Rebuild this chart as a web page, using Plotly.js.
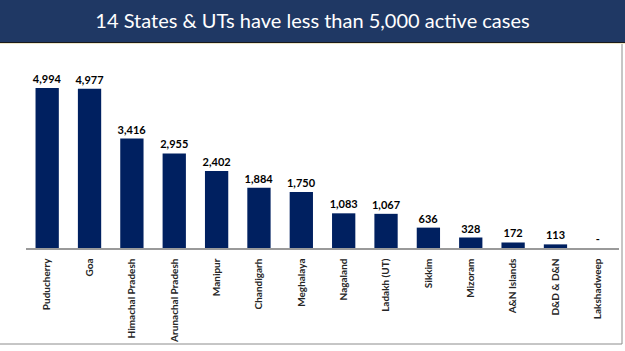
<!DOCTYPE html>
<html>
<head>
<meta charset="utf-8">
<script src="https://cdn.plot.ly/plotly-3.0.1.min.js"></script>
<style>
html,body{margin:0;padding:0;background:#fff;}
#chart{width:625px;height:351px;}
</style>
</head>
<body>
<div id="chart"></div>
<script>
const chartTitle = "14 States &amp; UTs have less than 5,000 active cases";
const states = ["Puducherry","Goa","Himachal Pradesh","Arunachal Pradesh","Manipur","Chandigarh","Meghalaya","Nagaland","Ladakh (UT)","Sikkim","Mizoram","A&amp;N Islands","D&amp;D &amp; D&amp;N","Lakshadweep"];
const activeCases = [4994,4977,3416,2955,2402,1884,1750,1083,1067,636,328,172,113,0];
const valueLabels = activeCases.map(v => v > 0 ? v.toLocaleString('en-US') : '-');

// pixel geometry helpers
const W = 625, H = 351;
const L = 26, R = 6, T = 69, B = 103;
const pw = W - L - R, ph = H - T - B;
const px = x => (x - L) / pw;
const py = y => (H - B - y) / ph;

const trace = {
  type: 'bar',
  x: states,
  y: activeCases,
  text: valueLabels,
  textposition: 'outside',
  constraintext: 'none',
  cliponaxis: false,
  textfont: {family: 'Lato, sans-serif', size: 11, color: '#000', weight: 'bold'},
  marker: {color: '#002060'},
  hoverinfo: 'none'
};

const layout = {
  width: W, height: H,
  margin: {l: L, r: R, t: T, b: B, pad: 0},
  paper_bgcolor: '#ffffff',
  plot_bgcolor: 'rgba(0,0,0,0)',
  bargap: 0.45,
  showlegend: false,
  title: {
    text: chartTitle,
    xref: 'container', x: 0.5, xanchor: 'center',
    yref: 'container', y: 1 - 21/H, yanchor: 'middle',
    font: {family: 'Lato, sans-serif', size: 20, color: '#ffffff'}
  },
  xaxis: {
    type: 'category',
    tickangle: -90,
    tickfont: {family: 'Lato, sans-serif', size: 10, color: '#262626', weight: 'bold'},
    showline: true, linecolor: '#9a9a9a', linewidth: 1.5,
    ticks: '', ticklabelstandoff: 5,
    showgrid: false, zeroline: false, fixedrange: true
  },
  yaxis: {
    range: [0, 5590],
    visible: false, showgrid: false, zeroline: false, fixedrange: true
  },
  shapes: [
    {type: 'rect', xref: 'paper', yref: 'paper', x0: px(0), x1: px(W), y0: py(42), y1: py(0),
     fillcolor: '#1f3864', line: {width: 0}, layer: 'below'},
    {type: 'line', xref: 'paper', yref: 'paper', x0: px(0), x1: px(W), y0: py(42.5), y1: py(42.5),
     line: {color: '#1a1a1a', width: 1}},
    {type: 'line', xref: 'paper', yref: 'paper', x0: px(0), x1: px(W), y0: py(43.5), y1: py(43.5),
     line: {color: '#efe7c8', width: 1}},
    {type: 'line', xref: 'paper', yref: 'paper', x0: px(622), x1: px(622), y0: py(44), y1: py(344),
     line: {color: '#8c8c8c', width: 1}},
    {type: 'line', xref: 'paper', yref: 'paper', x0: px(0), x1: px(622), y0: py(344), y1: py(344),
     line: {color: '#8c8c8c', width: 1}}
  ]
};

Plotly.newPlot('chart', [trace], layout, {displayModeBar: false, staticPlot: true});
</script>
</body>
</html>
